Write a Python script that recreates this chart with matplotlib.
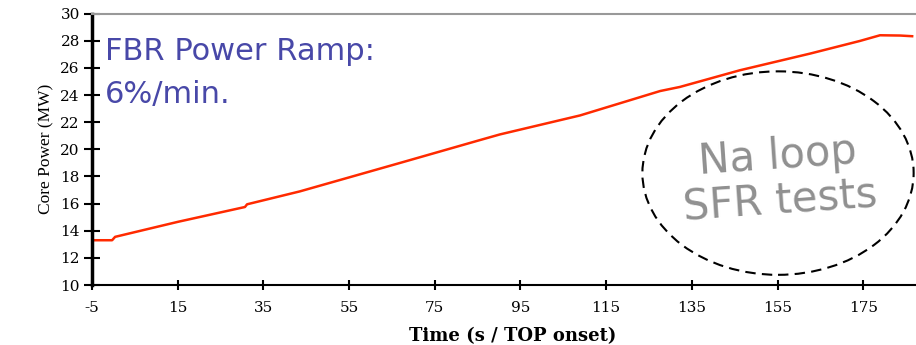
import matplotlib.pyplot as plt
from matplotlib.patches import Ellipse

plt.rcParams['axes.unicode_minus'] = False

# data
time_s = [-5, -0.3, 0.4, 15.1, 30.7, 31.2, 43.5, 66.9, 85.5, 90.2, 108.9,
          127.6, 132.2, 146.2, 162.6, 174.2, 178.9, 183.6, 186.4]
power_mw = [13.3, 13.3, 13.55, 14.66, 15.75, 15.95, 16.9, 19.0, 20.68, 21.1,
            22.5, 24.3, 24.6, 25.83, 27.06, 27.99, 28.41, 28.39, 28.34]
x_ticks = [-5, 15, 35, 55, 75, 95, 115, 135, 155, 175]
y_ticks = [10, 12, 14, 16, 18, 20, 22, 24, 26, 28, 30]

fig = plt.figure(figsize=(9.16, 3.45), dpi=100)
ax = fig.add_axes([0.1004, 0.1739, 0.8996, 0.7864])

ax.plot(time_s, power_mw, color='#ff2a00', linewidth=1.8)

ax.set_xlim(-5, 187.3)
ax.set_ylim(10, 30)
ax.set_xticks(x_ticks)
ax.set_yticks(y_ticks)

for lab in ax.get_xticklabels() + ax.get_yticklabels():
    lab.set_family('DejaVu Serif')
    lab.set_fontsize(11)

ax.tick_params(axis='y', direction='inout', length=11.5, width=1.5, pad=3)
ax.tick_params(axis='x', direction='inout', length=7.7, width=1.5, pad=8)

ax.spines['right'].set_visible(False)
ax.spines['top'].set_color('#999999')
ax.spines['top'].set_linewidth(1.5)
ax.spines['left'].set_linewidth(2.5)
ax.spines['bottom'].set_linewidth(1.5)

ax.set_ylabel('Core Power (MW)', family='Liberation Serif', fontsize=12.5, labelpad=4)
ax.set_xlabel('Time (s / TOP onset)', family='DejaVu Serif', fontsize=13,
              fontweight='bold', labelpad=9)
ax.xaxis.set_label_coords(0.51, -0.155)

ax.text(-2.0, 28.3, 'FBR Power Ramp:\n6%/min.', family='DejaVu Sans', fontsize=22,
        color='#4848a8', ha='left', va='top', linespacing=1.6)

ax.add_patch(Ellipse((155.1, 18.25), 63.3, 15.0, fill=False, edgecolor='black',
                     linewidth=1.5, linestyle=(0, (5, 3))))
ax.text(155.3, 17.8, 'Na loop\nSFR tests', family='DejaVu Sans', fontsize=30,
        color='#909090', ha='center', va='center', rotation=4,
        linespacing=1.1, rotation_mode='anchor')

fig.savefig('out.png', dpi=100)
